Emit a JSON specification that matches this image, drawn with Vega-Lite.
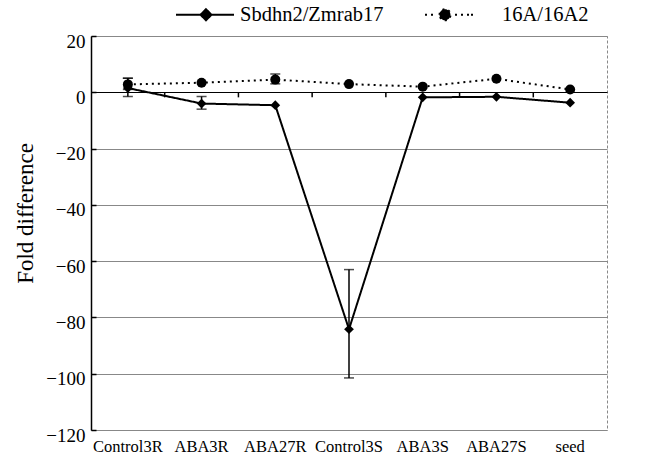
{
  "$schema": "https://vega.github.io/schema/vega-lite/v6.json",
  "width": 516,
  "height": 394,
  "autosize": "none",
  "padding": {"left": 91, "top": 36, "right": 43, "bottom": 27},
  "background": "white",
  "config": {
    "font": "Liberation Serif",
    "view": {"stroke": "#888", "strokeDash": [3, 2], "strokeWidth": 1},
    "axis": {"labelColor": "black", "titleColor": "black", "labelFont": "Liberation Serif", "titleFont": "Liberation Serif"},
    "legend": {"labelFont": "Liberation Serif", "labelColor": "black"}
  },
  "data": {
    "values": [
      {"cat": "Control3R", "series": "Sbdhn2/Zmrab17", "value": 1.5, "lo": -1.5, "hi": 5},
      {"cat": "ABA3R", "series": "Sbdhn2/Zmrab17", "value": -4, "lo": -6, "hi": -1.5},
      {"cat": "ABA27R", "series": "Sbdhn2/Zmrab17", "value": -4.6},
      {"cat": "Control3S", "series": "Sbdhn2/Zmrab17", "value": -84.2, "lo": -101.5, "hi": -63},
      {"cat": "ABA3S", "series": "Sbdhn2/Zmrab17", "value": -1.8},
      {"cat": "ABA27S", "series": "Sbdhn2/Zmrab17", "value": -1.6},
      {"cat": "seed", "series": "Sbdhn2/Zmrab17", "value": -3.7},
      {"cat": "Control3R", "series": "16A/16A2", "value": 2.8, "lo": 1, "hi": 5},
      {"cat": "ABA3R", "series": "16A/16A2", "value": 3.4},
      {"cat": "ABA27R", "series": "16A/16A2", "value": 4.5, "lo": 3, "hi": 6.5},
      {"cat": "Control3S", "series": "16A/16A2", "value": 2.9},
      {"cat": "ABA3S", "series": "16A/16A2", "value": 2},
      {"cat": "ABA27S", "series": "16A/16A2", "value": 4.8},
      {"cat": "seed", "series": "16A/16A2", "value": 1}
    ]
  },
  "layer": [
    {
      "mark": {"type": "line", "color": "black", "strokeWidth": 2},
      "encoding": {
        "x": {
          "field": "cat", "type": "nominal", "title": null,
          "scale": {"type": "band", "domain": ["Control3R", "ABA3R", "ABA27R", "Control3S", "ABA3S", "ABA27S", "seed"], "paddingInner": 0, "paddingOuter": 0},
          "axis": {"orient": "bottom", "labelAngle": 0, "labelFont": "Liberation Serif", "labelFontSize": 16.5, "labelPadding": 8, "ticks": false, "domain": false, "grid": false}
        },
        "y": {
          "field": "value", "type": "quantitative", "title": "Fold difference",
          "scale": {"domain": [-120, 20], "nice": false},
          "axis": {
            "values": [20, 0, -20, -40, -60, -80, -100, -120],
            "titleFont": "Liberation Serif", "titleFontSize": 23, "titleFontWeight": "normal",
            "titleX": -66, "titleY": 177, "titleAngle": -90, "titleAlign": "center", "titleBaseline": "middle",
            "labelFont": "Liberation Serif", "labelFontSize": 19, "labelPadding": 11, "labelOffset": 5,
            "tickSize": -5, "tickColor": "black", "tickWidth": 1.5,
            "domainColor": "black", "domainWidth": 1.5,
            "gridColor": {"condition": {"test": "datum.value === 0", "value": "black"}, "value": "#888"},
            "gridWidth": 1
          }
        },
        "strokeDash": {
          "field": "series", "type": "nominal",
          "scale": {"domain": ["Sbdhn2/Zmrab17", "16A/16A2"], "range": [[1, 0], [2, 4]]},
          "legend": {
            "orient": "none", "legendX": 104, "legendY": -32.5, "direction": "horizontal",
            "title": null, "padding": 0, "offset": 0,
            "symbolSize": 400, "symbolOpacity": 1, "symbolFillColor": "black", "symbolStrokeColor": "black", "symbolStrokeWidth": 2,
            "labelFont": "Liberation Serif", "labelFontSize": 20.5, "labelOffset": 23, "columnPadding": 37,
            "encode": {
              "symbols": {
                "update": {
                  "shape": {"signal": "datum.value === 'Sbdhn2/Zmrab17' ? 'M-3,0L2.8,0M-0.55,0L0,-0.55L0.55,0L0,0.55Z' : 'M-4.3,0L-4.05,0M-3.7,0L-3.45,0M-2.85,0A0.55,0.55 0 1,1 -1.75,0A0.55,0.55 0 1,1 -2.85,0ZM-1.3,0L-1.05,0M-0.7,0L-0.45,0M-0.1,0L0.15,0M0.3,0L0.5,0'"},
                  "size": {"value": 400},
                  "fill": {"value": "black"},
                  "stroke": {"value": "black"},
                  "strokeWidth": {"value": 2},
                  "strokeDash": {"value": []},
                  "opacity": {"value": 1}
                }
              }
            }
          }
        }
      }
    },
    {
      "transform": [{"filter": "datum.series === 'Sbdhn2/Zmrab17' && datum.cat !== 'Control3R'"}],
      "mark": {"type": "rule", "color": "black", "strokeWidth": 1.5},
      "encoding": {
        "x": {"field": "cat", "type": "nominal", "bandPosition": 0},
        "y": {"datum": 0, "type": "quantitative"},
        "y2": {"datum": -1.8}
      }
    },
    {
      "transform": [{"filter": "isValid(datum.lo)"}],
      "mark": {"type": "rule", "color": "black", "strokeWidth": 1.5},
      "encoding": {
        "x": {"field": "cat", "type": "nominal"},
        "y": {"field": "lo", "type": "quantitative", "title": "Fold difference"},
        "y2": {"field": "hi"}
      }
    },
    {
      "transform": [{"filter": "isValid(datum.lo)"}],
      "mark": {"type": "tick", "color": "black", "thickness": 1.5, "size": 10},
      "encoding": {
        "x": {"field": "cat", "type": "nominal"},
        "y": {"field": "lo", "type": "quantitative", "title": "Fold difference"}
      }
    },
    {
      "transform": [{"filter": "isValid(datum.hi)"}],
      "mark": {"type": "tick", "color": "black", "thickness": 1.5, "size": 10},
      "encoding": {
        "x": {"field": "cat", "type": "nominal"},
        "y": {"field": "hi", "type": "quantitative", "title": "Fold difference"}
      }
    },
    {
      "transform": [{"filter": "datum.series === 'Sbdhn2/Zmrab17'"}],
      "mark": {"type": "point", "filled": true, "color": "black", "opacity": 1, "size": 95, "shape": "diamond"},
      "encoding": {
        "x": {"field": "cat", "type": "nominal"},
        "y": {"field": "value", "type": "quantitative", "title": "Fold difference"}
      }
    },
    {
      "transform": [{"filter": "datum.series === '16A/16A2'"}],
      "mark": {"type": "point", "filled": true, "color": "black", "opacity": 1, "size": 100, "shape": "circle"},
      "encoding": {
        "x": {"field": "cat", "type": "nominal"},
        "y": {"field": "value", "type": "quantitative", "title": "Fold difference"}
      }
    }
  ]
}
